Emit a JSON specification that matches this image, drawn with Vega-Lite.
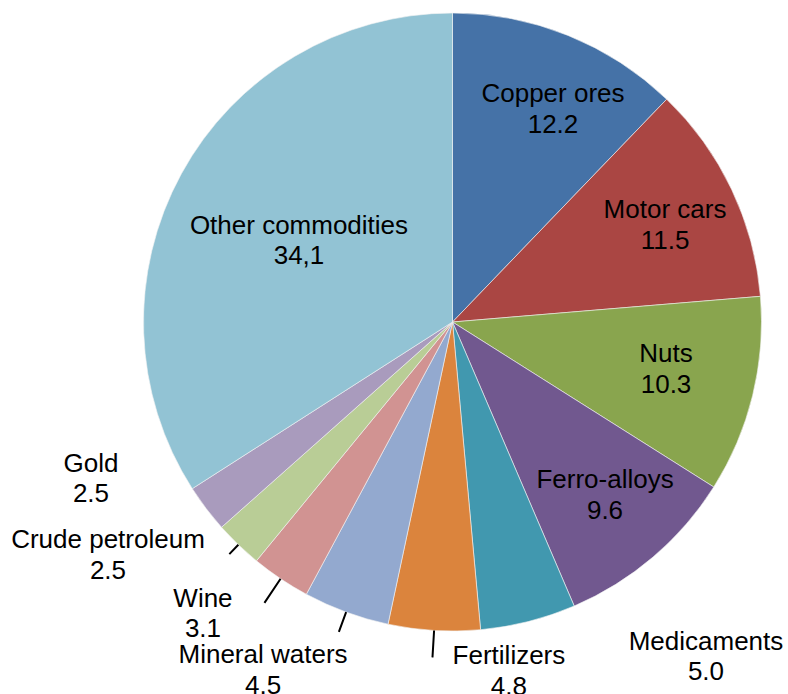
{
  "$schema": "https://vega.github.io/schema/vega-lite/v6.json",
  "width": 618,
  "height": 618,
  "autosize": "none",
  "padding": {"left": 143.5, "top": 13, "right": 26.5, "bottom": 63},
  "background": "white",
  "view": {"stroke": null},
  "data": {
    "values": [
      {"rank": 1, "name": "Copper ores", "value": 12.2},
      {"rank": 2, "name": "Motor cars", "value": 11.5},
      {"rank": 3, "name": "Nuts", "value": 10.3},
      {"rank": 4, "name": "Ferro-alloys", "value": 9.6},
      {"rank": 5, "name": "Medicaments", "value": 5.0},
      {"rank": 6, "name": "Fertilizers", "value": 4.8},
      {"rank": 7, "name": "Mineral waters", "value": 4.5},
      {"rank": 8, "name": "Wine", "value": 3.1},
      {"rank": 9, "name": "Crude petroleum", "value": 2.5},
      {"rank": 10, "name": "Gold", "value": 2.5},
      {"rank": 11, "name": "Other commodities", "value": 34.1}
    ]
  },
  "encoding": {
    "theta": {"field": "value", "type": "quantitative", "stack": true},
    "order": {"field": "rank", "type": "quantitative", "sort": "ascending"}
  },
  "layer": [
    {
      "mark": {"type": "arc", "stroke": "#f4f4f4", "strokeWidth": 0.6},
      "encoding": {
        "color": {
          "field": "name",
          "type": "nominal",
          "scale": {
            "domain": ["Copper ores", "Motor cars", "Nuts", "Ferro-alloys", "Medicaments", "Fertilizers", "Mineral waters", "Wine", "Crude petroleum", "Gold", "Other commodities"],
            "range": ["#4572A7", "#AA4643", "#89A54E", "#71588F", "#4198AF", "#DB843D", "#93A9CF", "#D19392", "#B9CD96", "#A99BBD", "#92C3D4"]
          },
          "legend": null
        }
      }
    },
    {
      "mark": {
        "type": "arc",
        "padAngle": 3.14,
        "radius2": 309,
        "radius": {"expr": "datum.name === 'Wine' ? 338 : datum.name === 'Mineral waters' ? 330 : datum.name === 'Fertilizers' ? 336 : datum.name === 'Crude petroleum' ? 322 : 309"},
        "fillOpacity": 0,
        "stroke": "black",
        "strokeWidth": 2
      },
      "encoding": {"detail": {"field": "name", "type": "nominal"}}
    },
    {
      "mark": {
        "type": "text",
        "font": "Liberation Sans",
        "fontSize": 26,
        "align": "center",
        "baseline": "alphabetic",
        "color": "black",
        "dy": -15,
        "radius": {"expr": "datum.name === 'Copper ores' ? 227.9 : datum.name === 'Motor cars' ? 230.4 : datum.name === 'Nuts' ? 220.6 : datum.name === 'Ferro-alloys' ? 236.7 : datum.name === 'Other commodities' ? 170 : datum.name === 'Gold' ? 397.2 : datum.name === 'Crude petroleum' ? 420.7 : datum.name === 'Wine' ? 390.2 : datum.name === 'Mineral waters' ? 403.7 : datum.name === 'Fertilizers' ? 361.9 : 426.5"},
        "thetaOffset": {"expr": "datum.name === 'Copper ores' ? 0.0738 : datum.name === 'Motor cars' ? 0.0475 : datum.name === 'Nuts' ? 0.014 : datum.name === 'Ferro-alloys' ? 0.006 : datum.name === 'Other commodities' ? -0.0567 : datum.name === 'Gold' ? 0.221 : datum.name === 'Crude petroleum' ? 0.1937 : datum.name === 'Wine' ? 0.1038 : datum.name === 'Mineral waters' ? 0.137 : datum.name === 'Fertilizers' ? -0.2162 : -0.3885"}
      },
      "encoding": {
        "text": {"field": "name", "type": "nominal"},
        "detail": {"field": "name", "type": "nominal"}
      }
    },
    {
      "mark": {
        "type": "text",
        "font": "Liberation Sans",
        "fontSize": 26,
        "align": "center",
        "baseline": "alphabetic",
        "color": "black",
        "dy": 15.5,
        "radius": {"expr": "datum.name === 'Copper ores' ? 227.9 : datum.name === 'Motor cars' ? 230.4 : datum.name === 'Nuts' ? 220.6 : datum.name === 'Ferro-alloys' ? 236.7 : datum.name === 'Other commodities' ? 170 : datum.name === 'Gold' ? 397.2 : datum.name === 'Crude petroleum' ? 420.7 : datum.name === 'Wine' ? 390.2 : datum.name === 'Mineral waters' ? 403.7 : datum.name === 'Fertilizers' ? 361.9 : 426.5"},
        "thetaOffset": {"expr": "datum.name === 'Copper ores' ? 0.0738 : datum.name === 'Motor cars' ? 0.0475 : datum.name === 'Nuts' ? 0.014 : datum.name === 'Ferro-alloys' ? 0.006 : datum.name === 'Other commodities' ? -0.0567 : datum.name === 'Gold' ? 0.221 : datum.name === 'Crude petroleum' ? 0.1937 : datum.name === 'Wine' ? 0.1038 : datum.name === 'Mineral waters' ? 0.137 : datum.name === 'Fertilizers' ? -0.2162 : -0.3885"}
      },
      "encoding": {
        "text": {
          "condition": {"test": "datum.name === 'Other commodities'", "value": "34,1"},
          "field": "value",
          "type": "quantitative",
          "format": ".1f"
        },
        "detail": {"field": "name", "type": "nominal"}
      }
    }
  ]
}
